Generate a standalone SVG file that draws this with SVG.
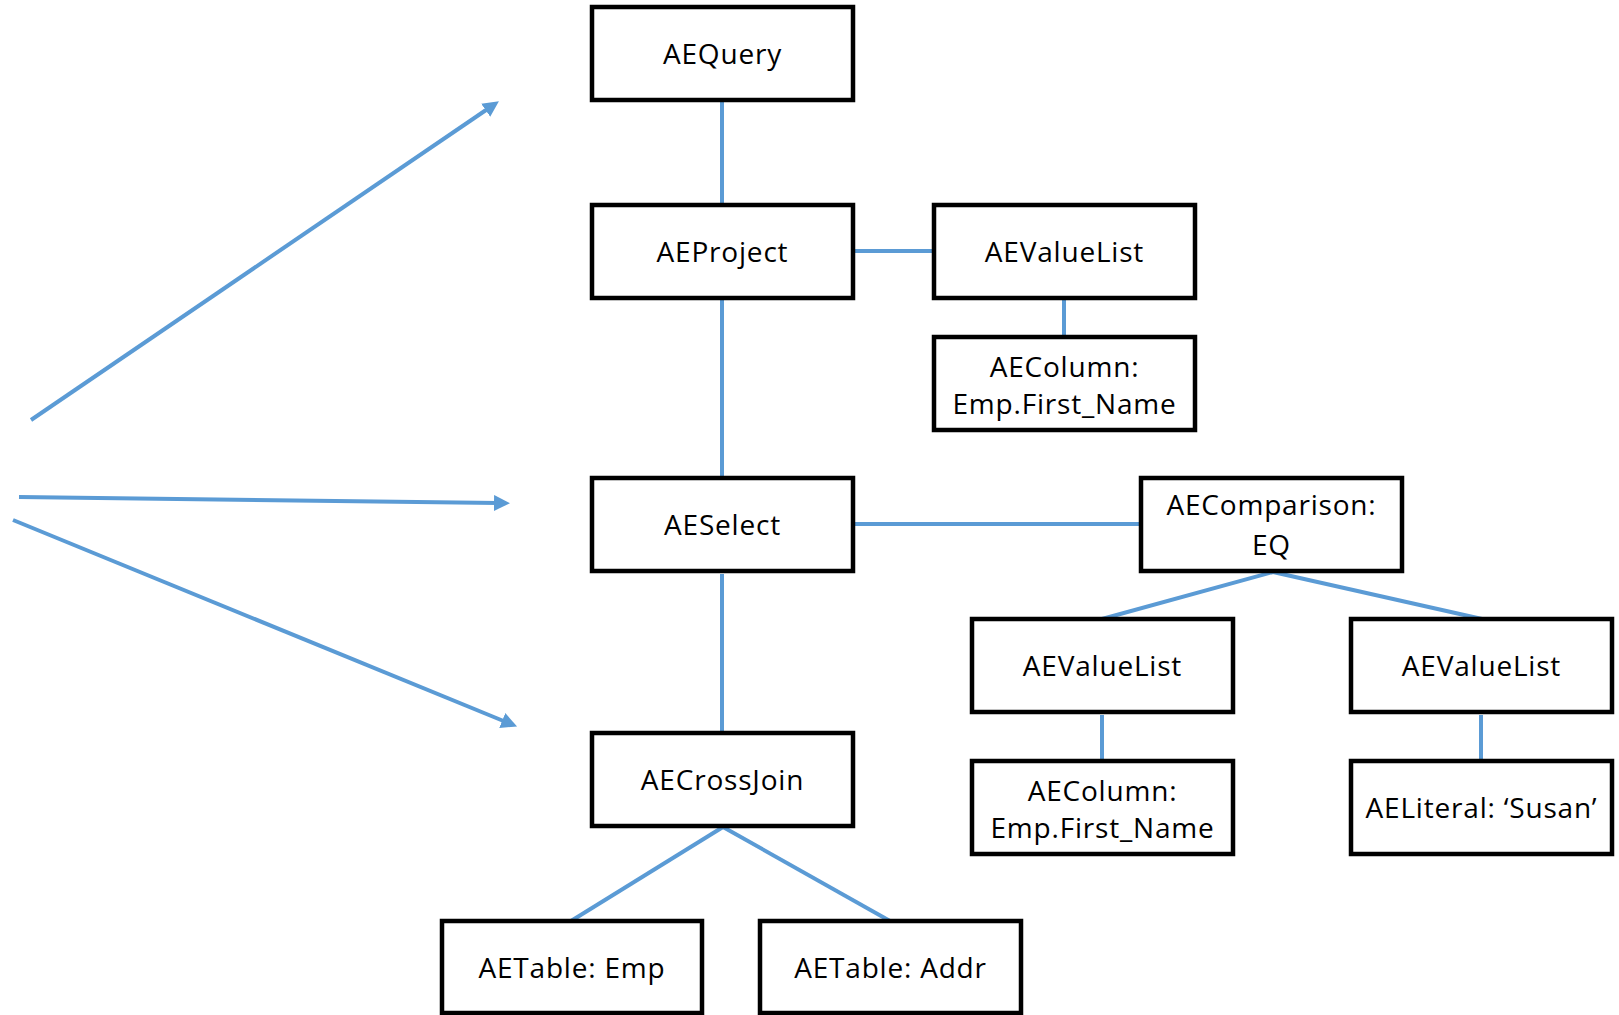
<svg xmlns="http://www.w3.org/2000/svg" width="1619" height="1015" viewBox="0 0 1619 1015">
  <style>
    .box { fill: #ffffff; stroke: #000000; stroke-width: 4.5; }
    .lbl { font-family: "Open Sans", "Liberation Sans", sans-serif; font-size: 28px; fill: #000000; text-anchor: middle; letter-spacing: 0.8px; }
    .edge { stroke: #5B9BD5; stroke-width: 4; fill: none; stroke-linecap: butt; }
    .ptr { stroke: #5B9BD5; stroke-width: 4; fill: none; marker-end: url(#head); }
  </style>
  <defs>
    <marker id="head" markerUnits="userSpaceOnUse" markerWidth="18" markerHeight="16" refX="4" refY="8" orient="auto">
      <path d="M0,0 L16,8 L0,16 z" fill="#5B9BD5"/>
    </marker>
  </defs>
  <rect width="1619" height="1015" fill="#ffffff"/>

  <!-- tree edges -->
  <g id="connectors">
    <line class="edge" x1="722" y1="102" x2="722" y2="203"/>
    <line class="edge" x1="855" y1="251" x2="932" y2="251"/>
    <line class="edge" x1="1064" y1="300" x2="1064" y2="335"/>
    <line class="edge" x1="722" y1="300" x2="722" y2="476"/>
    <line class="edge" x1="855" y1="524" x2="1139" y2="524"/>
    <line class="edge" x1="722" y1="574" x2="722" y2="731"/>
    <line class="edge" x1="1273" y1="572" x2="1102" y2="619"/>
    <line class="edge" x1="1273" y1="572" x2="1482" y2="619"/>
    <line class="edge" x1="1102" y1="715" x2="1102" y2="759"/>
    <line class="edge" x1="1481" y1="715" x2="1481" y2="759"/>
    <line class="edge" x1="723" y1="827" x2="571" y2="921"/>
    <line class="edge" x1="723" y1="827" x2="890" y2="921"/>
    <!-- pointer arrows on the left -->
    <line class="ptr" x1="31" y1="420" x2="489" y2="108"/>
    <line class="ptr" x1="19" y1="497" x2="498" y2="503"/>
    <line class="ptr" x1="13" y1="520" x2="506" y2="722"/>
  </g>

  <g id="ae-query">
    <rect class="box" x="592" y="7" width="261" height="93"/>
    <text class="lbl" x="722.5" y="64">AEQuery</text>
  </g>
  <g id="ae-project">
    <rect class="box" x="592" y="205" width="261" height="93"/>
    <text class="lbl" x="722.5" y="262">AEProject</text>
  </g>
  <g id="ae-valuelist-project">
    <rect class="box" x="934" y="205" width="261" height="93"/>
    <text class="lbl" x="1064.5" y="262">AEValueList</text>
  </g>
  <g id="ae-column-project">
    <rect class="box" x="934" y="337" width="261" height="93"/>
    <text class="lbl" x="1064.5" y="377">AEColumn:</text>
    <text class="lbl" x="1064.5" y="414">Emp.First_Name</text>
  </g>
  <g id="ae-select">
    <rect class="box" x="592" y="478" width="261" height="93"/>
    <text class="lbl" x="722.5" y="535">AESelect</text>
  </g>
  <g id="ae-comparison">
    <rect class="box" x="1141" y="478" width="261" height="93"/>
    <text class="lbl" x="1271.5" y="515">AEComparison:</text>
    <text class="lbl" x="1271.5" y="555">EQ</text>
  </g>
  <g id="ae-valuelist-left">
    <rect class="box" x="972" y="619" width="261" height="93"/>
    <text class="lbl" x="1102.5" y="676">AEValueList</text>
  </g>
  <g id="ae-valuelist-right">
    <rect class="box" x="1351" y="619" width="261" height="93"/>
    <text class="lbl" x="1481.5" y="676">AEValueList</text>
  </g>
  <g id="ae-column-cmp">
    <rect class="box" x="972" y="761" width="261" height="93"/>
    <text class="lbl" x="1102.5" y="801">AEColumn:</text>
    <text class="lbl" x="1102.5" y="838">Emp.First_Name</text>
  </g>
  <g id="ae-literal">
    <rect class="box" x="1351" y="761" width="261" height="93"/>
    <text class="lbl" x="1481.5" y="818">AELiteral: ‘Susan’</text>
  </g>
  <g id="ae-crossjoin">
    <rect class="box" x="592" y="733" width="261" height="93"/>
    <text class="lbl" x="722.5" y="790">AECrossJoin</text>
  </g>
  <g id="ae-table-emp">
    <rect class="box" x="442" y="921" width="260" height="92"/>
    <text class="lbl" x="572" y="978">AETable: Emp</text>
  </g>
  <g id="ae-table-addr">
    <rect class="box" x="760" y="921" width="261" height="92"/>
    <text class="lbl" x="890.5" y="978">AETable: Addr</text>
  </g>
</svg>
